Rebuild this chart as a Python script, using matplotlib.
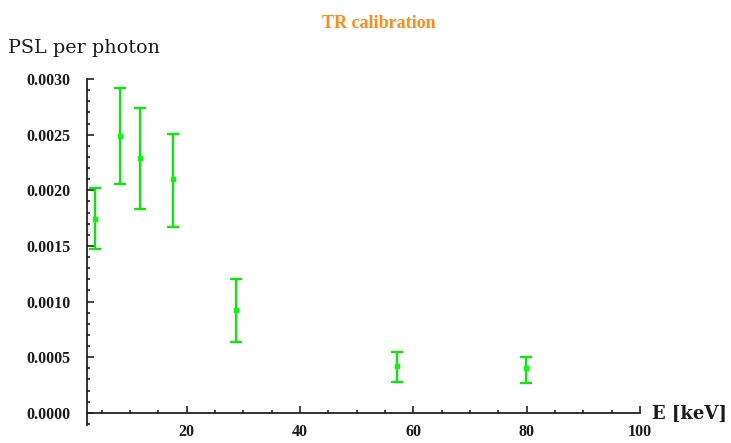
import matplotlib.pyplot as plt
from matplotlib.ticker import MultipleLocator, FormatStrFormatter

# TR calibration points: energy (keV), PSL per photon and error bars
energy = [3.8, 8.2, 11.8, 17.5, 28.7, 57.1, 79.9]
psl = [0.00174, 0.00249, 0.00229, 0.00210, 0.00092, 0.00042, 0.00040]
err_low = [0.00027, 0.00043, 0.00046, 0.00043, 0.00028, 0.00014, 0.00013]
err_high = [0.00028, 0.00043, 0.00045, 0.00041, 0.00028, 0.00013, 0.00010]

green = '#00ee00'
serif = 'Liberation Serif'
wide_serif = 'DejaVu Serif'

fig = plt.figure(figsize=(7.31, 4.43), dpi=100)
ax = fig.add_axes([0.119, 0.0406, 0.7565, 0.781])

ax.errorbar(energy, psl, yerr=[err_low, err_high], fmt='s', color='#00ff00',
            ecolor=green, elinewidth=1.6, capsize=4, capthick=1.6,
            markersize=3.5, clip_on=False)

ax.set_xlim(2.4, 100)
ax.set_ylim(-0.00011, 0.003)

# Mathematica-like axes: x axis through zero, inward ticks
for side in ['top', 'right']:
    ax.spines[side].set_visible(False)
ax.spines['bottom'].set_position(('data', 0))
for side in ['bottom', 'left']:
    ax.spines[side].set_color('#222222')
    ax.spines[side].set_linewidth(1.3)

ax.xaxis.set_major_locator(MultipleLocator(20))
ax.xaxis.set_minor_locator(MultipleLocator(5))
ax.yaxis.set_major_locator(MultipleLocator(0.0005))
ax.yaxis.set_minor_locator(MultipleLocator(0.0001))
ax.yaxis.set_major_formatter(FormatStrFormatter('%.4f'))
ax.tick_params(which='both', direction='in', color='#222222', width=1.2)
ax.tick_params(which='major', length=5)
ax.tick_params(which='minor', length=2.5)
ax.tick_params(axis='x', pad=8)
ax.tick_params(axis='y', pad=12)
for lab in ax.get_xticklabels() + ax.get_yticklabels():
    lab.set_fontfamily(serif)
    lab.set_fontweight('bold')
    lab.set_fontsize(11.5)
    lab.set_color('#1a1a1a')

fig.text(0.518, 0.948, 'TR calibration', ha='center', va='center',
         fontfamily=serif, fontweight='bold', fontsize=13, color='#ff8c1a')
fig.text(0.011, 0.892, 'PSL per photon', ha='left', va='center',
         fontfamily=wide_serif, fontsize=13.8, color='#1a1a1a')
fig.text(0.892, 0.066, 'E [keV]', ha='left', va='center',
         fontfamily=wide_serif, fontweight='bold', fontsize=13, color='#1a1a1a')

fig.savefig('out.png', dpi=100)
